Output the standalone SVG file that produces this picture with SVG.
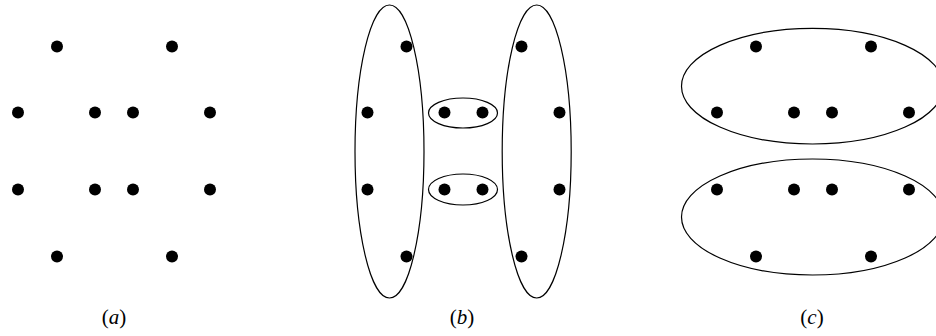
<svg xmlns="http://www.w3.org/2000/svg" width="936" height="336" viewBox="0 0 936 336">
<style>
.dot{fill:#000}
.ring{fill:none;stroke:#000;stroke-width:1.2}
.lbl{font-family:"Liberation Serif",serif;font-size:21px;fill:#000;text-anchor:middle}
.it{font-style:italic}
</style>
<rect width="936" height="336" fill="#fff"/>
<defs>
<g id="pts">
<circle class="dot" cx="-56.5" cy="46.5" r="6"/>
<circle class="dot" cx="58.5" cy="46.5" r="6"/>
<circle class="dot" cx="-95.5" cy="112.5" r="6"/>
<circle class="dot" cx="-18.5" cy="112.5" r="6"/>
<circle class="dot" cx="19.5" cy="112.5" r="6"/>
<circle class="dot" cx="96.5" cy="112.5" r="6"/>
<circle class="dot" cx="-95.5" cy="189.5" r="6"/>
<circle class="dot" cx="-18.5" cy="189.5" r="6"/>
<circle class="dot" cx="19.5" cy="189.5" r="6"/>
<circle class="dot" cx="96.5" cy="189.5" r="6"/>
<circle class="dot" cx="-56.5" cy="256.5" r="6"/>
<circle class="dot" cx="58.5" cy="256.5" r="6"/>
</g>
</defs>
<g id="panel-a">
<use href="#pts" x="113.5"/>
<text class="lbl" x="114" y="324">(<tspan class="it">a</tspan>)</text>
</g>
<g id="panel-b">
<use href="#pts" x="463"/>
<ellipse class="ring" cx="389.5" cy="151.5" rx="34.5" ry="146.5"/>
<ellipse class="ring" cx="536.7" cy="151.5" rx="34.5" ry="146.5"/>
<ellipse class="ring" cx="463" cy="113" rx="34.5" ry="15"/>
<ellipse class="ring" cx="463" cy="189.5" rx="34.5" ry="15.5"/>
<text class="lbl" x="462" y="324">(<tspan class="it">b</tspan>)</text>
</g>
<g id="panel-c">
<use href="#pts" x="812.5"/>
<ellipse class="ring" cx="812.5" cy="86.2" rx="131" ry="57.8"/>
<ellipse class="ring" cx="812.5" cy="217" rx="131" ry="58"/>
<text class="lbl" x="812" y="324">(<tspan class="it">c</tspan>)</text>
</g>
<g id="connectors"/>
</svg>
